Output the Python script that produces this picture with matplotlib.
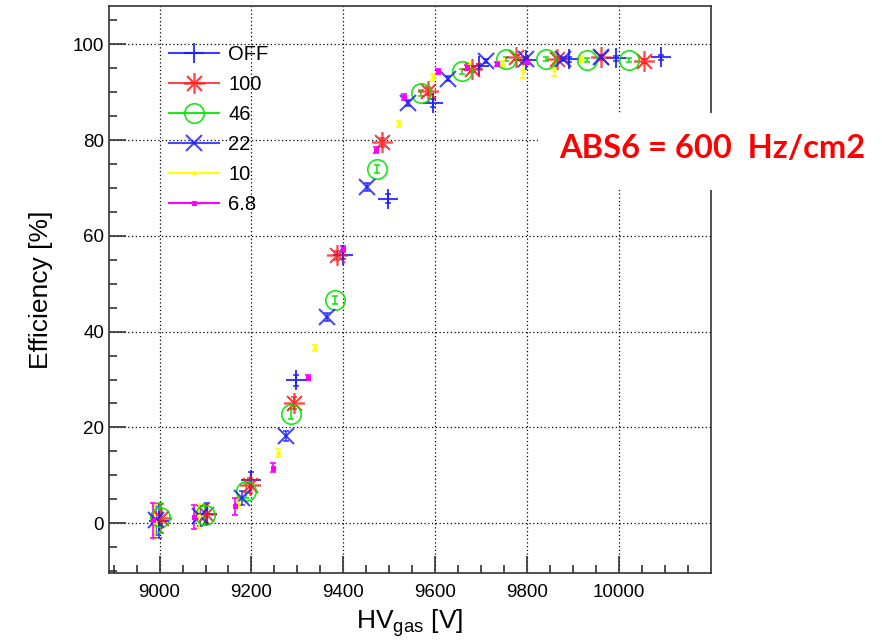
import matplotlib
matplotlib.use("Agg")
import matplotlib.pyplot as plt
from matplotlib.lines import Line2D
from matplotlib.patches import Rectangle

plt.rcParams['font.family'] = ['Liberation Sans', 'DejaVu Sans']

# efficiency scans, one per source setting
hv_off = [8998, 9104, 9200, 9298, 9400, 9497, 9594, 9696, 9797, 9891, 9993, 10091]
eff_off = [0.5, 2.0, 9.1, 29.8, 56.1, 67.8, 87.8, 95.4, 96.7, 96.9, 97.1, 97.3]
err_off = [3.5, 2.2, 1.5, 1.2, 1.0, 1.0, 0.8, 0.5, 0.5, 0.5, 0.5, 0.5]

hv_100 = [9004, 9100, 9196, 9293, 9387, 9483, 9585, 9681, 9776, 9865, 9961, 10054]
eff_100 = [1.0, 2.0, 7.9, 25.1, 55.9, 79.5, 90.3, 94.8, 97.3, 96.9, 97.3, 96.5]
err_100 = [3.0, 2.0, 1.5, 1.2, 1.0, 1.0, 0.8, 0.5, 0.5, 0.5, 0.5, 0.5]

hv_46 = [9000, 9098, 9189, 9287, 9382, 9474, 9569, 9659, 9754, 9841, 9930, 10022]
eff_46 = [1.2, 1.7, 6.8, 22.8, 46.6, 74.0, 89.8, 94.4, 96.9, 96.9, 96.7, 96.7]
err_46 = [3.0, 2.0, 1.5, 1.0, 0.8, 0.8, 0.6, 0.5, 0.4, 0.4, 0.4, 0.4]

hv_22 = [8993, 9087, 9180, 9276, 9365, 9452, 9541, 9627, 9711, 9797, 9877, 9961]
eff_22 = [0.6, 1.5, 5.2, 18.2, 43.1, 70.2, 87.8, 92.8, 96.5, 96.9, 96.9, 97.3]
err_22 = [3.0, 2.0, 1.5, 1.0, 0.8, 0.8, 0.6, 0.5, 0.4, 0.4, 0.4, 0.4]

hv_10 = [8990, 9085, 9170, 9257, 9339, 9520, 9594, 9672, 9745, 9790, 9859, 9917]
eff_10 = [0.3, 1.5, 4.3, 14.7, 36.6, 83.3, 93.2, 95.5, 95.9, 94.4, 94.8, 97.0]
err_10 = [3.6, 2.5, 1.2, 0.8, 0.6, 0.6, 0.6, 0.6, 0.6, 1.5, 1.5, 0.6]

hv_68 = [8985, 9076, 9165, 9246, 9324, 9400, 9471, 9533, 9605, 9668, 9735, 9800]
eff_68 = [0.6, 1.2, 3.5, 11.6, 30.4, 57.2, 77.9, 89.0, 94.4, 95.2, 95.9, 96.3]
err_68 = [3.6, 2.5, 1.8, 1.0, 0.6, 0.6, 0.6, 0.6, 0.5, 0.5, 0.5, 0.5]

labels = ['OFF', '100', '46', '22', '10', '6.8']

fig = plt.figure(figsize=(8.82, 6.44), dpi=100)
ax = fig.add_axes([109 / 882, 1 - 573 / 644, 602 / 882, 567 / 644])

star = (8, 2, 0)
styles = [
    dict(marker='+', ms=15, mew=1.5, color=(0.1, 0.1, 1.0, 0.85), mfc='none'),
    dict(marker=star, ms=15, mew=1.2, color=(1.0, 0.1, 0.1, 0.8), mfc='none'),
    dict(marker='o', ms=14, mew=1.2, color=(0.0, 0.9, 0.0, 0.9), mfc='none'),
    dict(marker='x', ms=12, mew=1.5, color=(0.1, 0.1, 1.0, 0.8), mfc='none'),
    dict(marker='o', ms=2.5, mew=0.8, color='#ffff00', mfc='#ffff00'),
    dict(marker='s', ms=3.5, mew=0.8, color='#ff00ff', mfc='#ff00ff'),
]
series = [
    (hv_off, eff_off, err_off),
    (hv_100, eff_100, err_100),
    (hv_46, eff_46, err_46),
    (hv_22, eff_22, err_22),
    (hv_10, eff_10, err_10),
    (hv_68, eff_68, err_68),
]

handles = []
for (x, y, e), st in zip(series, styles):
    ax.errorbar(x, y, yerr=e, fmt='none', ecolor=st['color'], elinewidth=1.2,
                capsize=2.5, capthick=1.2, zorder=3)
    ax.plot(x, y, linestyle='none', marker=st['marker'], ms=st['ms'], mew=st['mew'],
            color=st['color'], mfc=st['mfc'], zorder=4)
    handles.append(Line2D([], [], linestyle='-', lw=1.5, marker=st['marker'], ms=st['ms'],
                          mew=st['mew'], color=st['color'], mfc=st['mfc']))

ax.set_xlim(8890, 10200)
ax.set_ylim(-10.4, 108)
ax.set_xticks([9000, 9200, 9400, 9600, 9800, 10000])
ax.set_xticks(range(8900, 10200, 50), minor=True)
ax.set_yticks([0, 20, 40, 60, 80, 100])
ax.set_yticks(range(-10, 106, 5), minor=True)
ax.tick_params(which='both', direction='in', top=False, right=False, labelsize=13.5,
               color='#333333', width=1.2)
ax.tick_params(which='major', length=12)
ax.tick_params(which='minor', length=6)
ax.tick_params(axis='x', pad=8)
ax.grid(True, which='major', color='black', linestyle=(0, (1, 2)), linewidth=0.9)
for s in ax.spines.values():
    s.set_linewidth(1.2)
    s.set_color('#333333')

ax.set_xlabel(r'HV$_{\mathregular{gas}}$ [V]', fontsize=19, labelpad=4)
ax.set_ylabel('Efficiency [%]', fontsize=19, labelpad=14)

ax.legend(handles, labels, loc='upper left', bbox_to_anchor=(169 / 882, 1 - 45 / 644),
          bbox_transform=fig.transFigure, frameon=False, fontsize=14.5,
          handlelength=2.5, handletextpad=0.45, labelspacing=0.55, borderpad=0,
          borderaxespad=0)

# white box hiding the frame behind the annotation
fig.add_artist(Rectangle((538 / 882, 1 - 190 / 644), 344 / 882, 77 / 644,
                         transform=fig.transFigure, facecolor='white',
                         edgecolor='none', zorder=5))
fig.text(712 / 882, 1 - 148 / 644, 'ABS6 = 600  Hz/cm2', color='red', fontsize=23.5,
         fontweight='bold', family='Lato', ha='center', va='center', zorder=6)

fig.savefig('out.png', dpi=100)
